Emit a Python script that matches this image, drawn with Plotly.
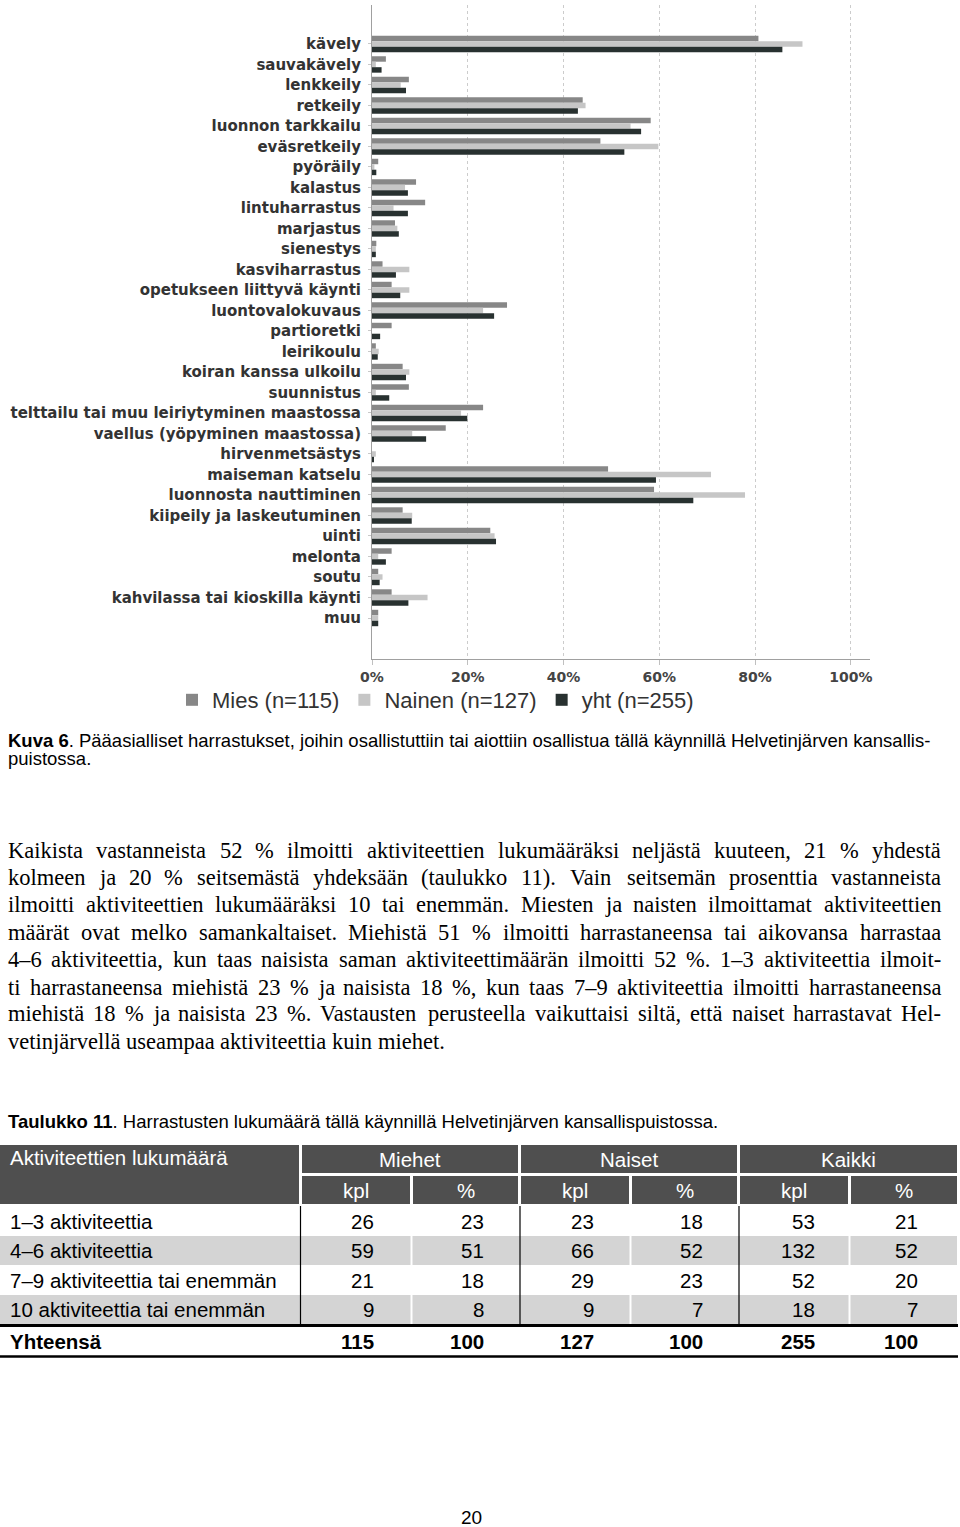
import plotly.graph_objects as go

W, H = 960, 1527

# ---------------- chart data (percent of respondents) ----------------
categories = ["kävely", "sauvakävely", "lenkkeily", "retkeily", "luonnon tarkkailu",
              "eväsretkeily", "pyöräily", "kalastus", "lintuharrastus", "marjastus",
              "sienestys", "kasviharrastus", "opetukseen liittyvä käynti", "luontovalokuvaus",
              "partioretki", "leirikoulu", "koiran kanssa ulkoilu", "suunnistus",
              "telttailu tai muu leiriytyminen maastossa", "vaellus (yöpyminen maastossa)",
              "hirvenmetsästys", "maiseman katselu", "luonnosta nauttiminen",
              "kiipeily ja laskeutuminen", "uinti", "melonta", "soutu",
              "kahvilassa tai kioskilla käynti", "muu"]
mies = [80.7, 2.9, 7.7, 44.0, 58.2, 47.7, 1.3, 9.2, 11.1, 4.8, 0.9, 2.2, 4.1, 28.2, 4.1,
        0.8, 6.4, 7.7, 23.2, 15.4, 0.0, 49.3, 58.9, 6.4, 24.7, 4.1, 1.3, 4.1, 1.3]
nainen = [89.9, 0.8, 6.0, 44.6, 54.0, 59.8, 0.5, 6.9, 4.5, 5.3, 0.8, 7.8, 7.8, 23.2, 0.0,
          1.4, 7.8, 0.8, 18.6, 8.4, 0.8, 70.8, 77.9, 8.4, 25.6, 1.3, 2.2, 11.6, 1.3]
yht = [85.7, 2.0, 7.1, 43.0, 56.2, 52.7, 0.9, 7.5, 7.5, 5.6, 0.8, 5.0, 5.9, 25.5, 1.7,
       1.2, 7.1, 3.6, 19.9, 11.3, 0.4, 59.3, 67.1, 8.3, 25.9, 2.9, 1.6, 7.6, 1.3]
series_names = ["Mies (n=115)", "Nainen (n=127)", "yht (n=255)"]
x_ticks = [0, 20, 40, 60, 80, 100]

# ---------------- text ----------------
caption_bold = "Kuva 6"
caption_rest = (". Pääasialliset harrastukset, joihin osallistuttiin tai aiottiin osallistua "
                "tällä käynnillä Helvetinjärven kansallis-")
caption_line2 = "puistossa."
paragraph_lines = [
    "Kaikista vastanneista 52 % ilmoitti aktiviteettien lukumääräksi neljästä kuuteen, 21 % yhdestä",
    "kolmeen ja 20 % seitsemästä yhdeksään (taulukko 11). Vain seitsemän prosenttia vastanneista",
    "ilmoitti aktiviteettien lukumääräksi 10 tai enemmän. Miesten ja naisten ilmoittamat aktiviteettien",
    "määrät ovat melko samankaltaiset. Miehistä 51 % ilmoitti harrastaneensa tai aikovansa harrastaa",
    "4–6 aktiviteettia, kun taas naisista saman aktiviteettimäärän ilmoitti 52 %. 1–3 aktiviteettia ilmoit-",
    "ti harrastaneensa miehistä 23 % ja naisista 18 %, kun taas 7–9 aktiviteettia ilmoitti harrastaneensa",
    "miehistä 18 % ja naisista 23 %. Vastausten perusteella vaikuttaisi siltä, että naiset harrastavat Hel-",
    "vetinjärvellä useampaa aktiviteettia kuin miehet.",
]
table_title_bold = "Taulukko 11"
table_title_rest = ". Harrastusten lukumäärä tällä käynnillä Helvetinjärven kansallispuistossa."

# ---------------- table data ----------------
table_header = "Aktiviteettien lukumäärä"
table_groups = ["Miehet", "Naiset", "Kaikki"]
table_subheads = ["kpl", "%", "kpl", "%", "kpl", "%"]
table_rows = ["1–3 aktiviteettia", "4–6 aktiviteettia",
              "7–9 aktiviteettia tai enemmän", "10 aktiviteettia tai enemmän"]
miehet_kpl = [26, 59, 21, 9]
miehet_pct = [23, 51, 18, 8]
naiset_kpl = [23, 66, 29, 9]
naiset_pct = [18, 52, 23, 7]
kaikki_kpl = [53, 132, 52, 18]
kaikki_pct = [21, 52, 20, 7]
total_label = "Yhteensä"
totals = [115, 100, 127, 100, 255, 100]
page_number = "20"


def px(x):
    return x / W


def py(y):
    return 1 - y / H


fig = go.Figure()
colors = ["#878787", "#c6c6c6", "#283130"]
for name, vals, col in zip(series_names, [mies, nainen, yht], colors):
    fig.add_trace(go.Bar(y=categories, x=vals, name=name, orientation="h",
                         marker=dict(color=col, line=dict(width=0))))

annotations = []
shapes = []

CFS = 18.5
# caption
annotations.append(dict(text="<b>" + caption_bold + "</b>" + caption_rest, x=px(7), y=py(740),
                        xref="paper", yref="paper", xanchor="left", yanchor="middle", borderpad=0,
                        showarrow=False, font=dict(family="Liberation Sans", size=CFS, color="#000")))
annotations.append(dict(text=caption_line2, x=px(7), y=py(759),
                        xref="paper", yref="paper", xanchor="left", yanchor="middle", borderpad=0,
                        showarrow=False, font=dict(family="Liberation Sans", size=CFS, color="#000")))

# justified paragraph (Times metrics)
TW = {'a': 444, 'b': 500, 'c': 444, 'd': 500, 'e': 444, 'f': 333, 'g': 500, 'h': 500, 'i': 278,
      'j': 278, 'k': 500, 'l': 278, 'm': 778, 'n': 500, 'o': 500, 'p': 500, 'q': 500, 'r': 333,
      's': 389, 't': 278, 'u': 500, 'v': 500, 'w': 722, 'x': 500, 'y': 500, 'z': 444,
      'ä': 444, 'ö': 500, 'å': 444,
      'A': 722, 'B': 667, 'C': 667, 'D': 722, 'E': 611, 'F': 556, 'G': 722, 'H': 722, 'I': 333,
      'J': 389, 'K': 722, 'L': 611, 'M': 889, 'N': 722, 'O': 722, 'P': 556, 'Q': 722, 'R': 667,
      'S': 556, 'T': 611, 'U': 722, 'V': 722, 'W': 944, 'X': 722, 'Y': 722, 'Z': 611,
      ' ': 250, '.': 250, ',': 250, '%': 833, '(': 333, ')': 333, '–': 500, '-': 333, ':': 278}
for d in "0123456789":
    TW[d] = 500

PFS = 22.5
line_y = [850, 877, 904, 932, 959, 987, 1013, 1041]
left_x, right_x = 7, 940


def wwidth(word):
    return sum(TW.get(ch, 500) for ch in word) / 1000 * PFS


for i, (line, yy) in enumerate(zip(paragraph_lines, line_y)):
    words = line.split(" ")
    widths = [wwidth(w) for w in words]
    if i < len(paragraph_lines) - 1 and len(words) > 1:
        gap = (right_x - left_x - sum(widths)) / (len(words) - 1)
    else:
        gap = TW[' '] / 1000 * PFS
    xx = left_x
    for w, wd in zip(words, widths):
        annotations.append(dict(text=w, x=px(xx), y=py(yy), xref="paper", yref="paper",
                                xanchor="left", yanchor="middle", showarrow=False, borderpad=0,
                                font=dict(family="Liberation Serif", size=PFS, color="#000")))
        xx += wd + gap

# table title
annotations.append(dict(text="<b>" + table_title_bold + "</b>" + table_title_rest, x=px(7), y=py(1121),
                        xref="paper", yref="paper", xanchor="left", yanchor="middle", borderpad=0,
                        showarrow=False, font=dict(family="Liberation Sans", size=CFS, color="#000")))


def rect(x0, y0, x1, y1, color):
    shapes.append(dict(type="rect", xref="paper", yref="paper", x0=px(x0), x1=px(x1),
                       y0=py(y1), y1=py(y0), fillcolor=color, line=dict(width=0)))


def hline(x0, x1, yv, width, color):
    shapes.append(dict(type="line", xref="paper", yref="paper", x0=px(x0), x1=px(x1),
                       y0=py(yv), y1=py(yv), line=dict(width=width, color=color)))


def vline(xv, y0, y1, width, color):
    shapes.append(dict(type="line", xref="paper", yref="paper", x0=px(xv), x1=px(xv),
                       y0=py(y0), y1=py(y1), line=dict(width=width, color=color)))


HDR = "#4f4f4f"
GRAY = "#d4d4d4"
TFS = 20.5
# header
rect(0, 1145, 299, 1204, HDR)
group_x = [(302, 518), (521, 737), (740, 957)]
for (a, b) in group_x:
    rect(a, 1145, b, 1173, HDR)
sub_x = [(302, 410), (413, 518), (521, 629), (632, 737), (740, 848), (851, 957)]
for (a, b) in sub_x:
    rect(a, 1176, b, 1204, HDR)


def txt(t, x, y, anchor, color="#000", bold=False, size=TFS):
    annotations.append(dict(text=("<b>%s</b>" % t) if bold else t, x=px(x), y=py(y),
                            xref="paper", yref="paper", xanchor=anchor, yanchor="middle",
                            showarrow=False, borderpad=0,
                            font=dict(family="Liberation Sans", size=size, color=color)))


txt(table_header, 9, 1157, "left", "#fff")
for g, (a, b) in zip(table_groups, group_x):
    txt(g, (a + b) / 2, 1159, "center", "#fff")
for s, (a, b) in zip(table_subheads, sub_x):
    txt(s, (a + b) / 2, 1190, "center", "#fff")

row_top = [1206, 1236, 1266, 1295]
row_bot = [1236, 1265, 1295, 1324]
for i in range(4):
    if i % 2 == 1:
        rect(0, row_top[i], 957, row_bot[i], GRAY)
        for xv in (411.5, 630.5, 849.5):
            vline(xv, row_top[i], row_bot[i], 2, "#ffffff")
for xv in (300.5, 520, 739):
    vline(xv, 1206, 1324, 1.2, "#000")
hline(0, 958, 1325.5, 3, "#000")
hline(0, 958, 1356.5, 2.5, "#000")

num_anchor = [375, 485, 595, 704, 816, 919]
cols = [miehet_kpl, miehet_pct, naiset_kpl, naiset_pct, kaikki_kpl, kaikki_pct]
row_cy = [1221, 1250, 1280, 1309]
for i, lab in enumerate(table_rows):
    txt(lab, 9, row_cy[i], "left")
    for c, xa in zip(cols, num_anchor):
        txt(str(c[i]), xa, row_cy[i], "right")
txt(total_label, 9, 1341, "left", bold=True)
for v, xa in zip(totals, num_anchor):
    txt(str(v), xa, 1341, "right", bold=True)

txt(page_number, 471, 1517, "center", size=19)

fig.update_layout(
    width=W, height=H, margin=dict(l=0, r=0, t=0, b=0, autoexpand=False),
    paper_bgcolor="#ffffff", plot_bgcolor="#ffffff",
    barmode="group", bargap=0.2, bargroupgap=0.0,
    showlegend=True,
    legend=dict(orientation="h", x=px(172), y=py(700), xanchor="left", yanchor="middle",
                font=dict(family="Liberation Sans", size=22, color="#333"),
                traceorder="normal", bgcolor="rgba(0,0,0,0)"),
    xaxis=dict(domain=[px(372), px(870)], range=[0, 104], tickvals=x_ticks,
               ticktext=["%d%%" % t for t in x_ticks], automargin=False,
               showgrid=True, gridcolor="#cccccc", griddash="dot", gridwidth=1,
               zeroline=False, showline=True, linecolor="#a0a0a0", linewidth=1,
               ticks="outside", ticklen=5, tickcolor="#c0c0c0",
               tickfont=dict(family="DejaVu Sans", size=14, color="#444", weight="bold"),
               fixedrange=True),
    yaxis=dict(domain=[py(659), py(5)], type="category", categoryorder="array",
               categoryarray=categories, range=[30.0, -1.9], autorange=False, automargin=False,
               showgrid=False, zeroline=False, showline=True, linecolor="#a0a0a0", linewidth=1,
               ticks="outside", ticklen=3, tickcolor="#c8c8c8", ticklabelstandoff=4,
               tickfont=dict(family="DejaVu Sans", size=15, color="#333", weight="bold"),
               fixedrange=True),
    annotations=annotations,
    shapes=shapes,
)

fig.write_html("out.html")
